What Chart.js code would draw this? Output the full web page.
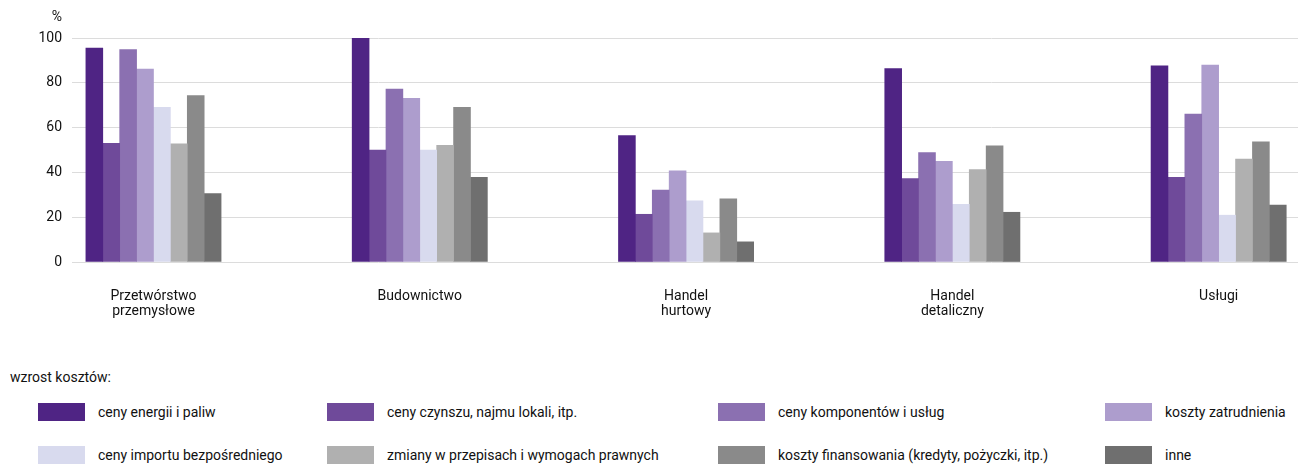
<!DOCTYPE html>
<html>
<head>
<meta charset="utf-8">
<script src="https://cdn.jsdelivr.net/npm/chart.js@4"></script>
<style>
  html,body{margin:0;padding:0;background:#fff;}
  #wrap{position:relative;width:1298px;height:464px;overflow:hidden;font-family:Roboto,sans-serif;color:#111;}
  #chart{position:absolute;left:0;top:0;}
  .ttl{position:absolute;left:10px;top:369px;font-size:14px;}
  .it{position:absolute;height:20px;white-space:nowrap;font-size:14px;line-height:20px;}
  .it i{position:absolute;left:0;top:1px;width:47px;height:18px;}
  .it span{position:absolute;left:60px;top:0;}
</style>
</head>
<body>
<div id="wrap">
  <canvas id="chart" width="1298" height="335"></canvas>
  <div class="ttl">wzrost kosztów:</div>
  <div id="legend"></div>
</div>
<script>
// sektory (etykiety osi X, wiersze)
const categories = [["Przetwórstwo","przemysłowe"],["Budownictwo"],["Handel","hurtowy"],["Handel","detaliczny"],["Usługi"]];
const seriesNames = ["ceny energii i paliw","ceny czynszu, najmu lokali, itp.","ceny komponentów i usług","koszty zatrudnienia",
  "ceny importu bezpośredniego","zmiany w przepisach i wymogach prawnych","koszty finansowania (kredyty, pożyczki, itp.)","inne"];
const colors = ["#4f2484","#6f4a9a","#8b70b1","#ad9dcd","#d8daee","#b0b0b0","#8a8a8a","#6f6f6f"];

// wartości w % (po jednej tablicy na serię, kolejność jak categories)
const energia     = [95.5, 100, 56.4, 86.3, 87.6];
const czynsz      = [53.0, 50.0, 21.3, 37.2, 37.8];
const komponenty  = [94.8, 77.2, 32.1, 48.8, 66.0];
const zatrudnienie= [86.1, 73.1, 40.7, 44.9, 87.9];
const importBezp  = [69.1, 50.0, 27.3, 25.8, 20.9];
const przepisy    = [52.7, 52.1, 13.0, 41.3, 46.0];
const finansowanie= [74.3, 69.1, 28.2, 51.9, 53.6];
const inne        = [30.6, 37.8,  9.0, 22.2, 25.4];
const series = [energia,czynsz,komponenty,zatrudnienie,importBezp,przepisy,finansowanie,inne];
const yTicks = [0,20,40,60,80,100];

const FONT = {family:"Roboto", size:14};

const pctLabel = {
  id:"pct",
  afterDraw(c){
    const ctx=c.ctx, y=c.scales.y;
    ctx.save(); ctx.font="14px Roboto"; ctx.fillStyle="#111";
    ctx.textAlign="right"; ctx.textBaseline="middle";
    ctx.fillText("%", y.right-10, c.chartArea.top-21);
    ctx.restore();
  }
};

new Chart(document.getElementById("chart"),{
  type:"bar",
  data:{datasets:series.map((s,k)=>({
    label:seriesNames[k], data:s.map((v,i)=>({x:i,y:v})),
    backgroundColor:colors[k], borderWidth:0, barThickness:16.9}))},
  options:{
    responsive:false, animation:false,
    layout:{padding:{top:38,left:0,right:0,bottom:0}},
    plugins:{legend:{display:false},tooltip:{enabled:false}},
    scales:{
      x:{type:"linear", min:-0.306, max:4.298, offset:false,
        grid:{display:false,drawTicks:false,offset:false}, border:{display:false},
        afterBuildTicks:s=>{s.ticks=categories.map((_,i)=>({value:i}));},
        afterFit:s=>{s.height=73;},
        ticks:{autoSkip:false,maxRotation:0,padding:27,color:"#111",
          font:{...FONT,lineHeight:1.07},
          callback:v=>categories[v]}},
      y:{min:0,max:100,
        grid:{color:"#dcdcdc",drawTicks:false,lineWidth:1}, border:{display:false},
        afterBuildTicks:s=>{s.ticks=yTicks.map(v=>({value:v}));},
        afterFit:s=>{s.width=72;},
        ticks:{padding:10,color:"#111",font:FONT}}
    }
  },
  plugins:[pctLabel]
});

// legenda: 4 kolumny x 2 wiersze
const colX=[38,327,718,1105], rowY=[402,445];
const lg=document.getElementById("legend");
seriesNames.forEach((n,k)=>{
  const d=document.createElement("div"); d.className="it";
  d.style.left=colX[k%4]+"px"; d.style.top=rowY[Math.floor(k/4)]+"px";
  d.innerHTML='<i style="background:'+colors[k]+'"></i><span></span>';
  d.querySelector("span").textContent=n;
  lg.appendChild(d);
});
</script>
</body>
</html>
